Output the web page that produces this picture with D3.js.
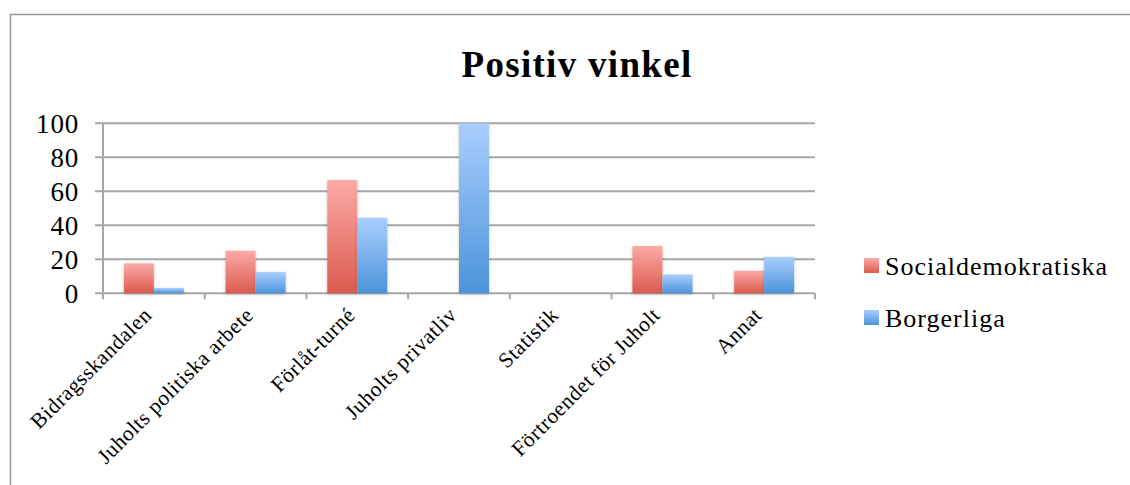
<!DOCTYPE html>
<html><head><meta charset="utf-8">
<script src="https://cdn.jsdelivr.net/npm/d3@7"></script>
<style>body{margin:0;background:#fff}svg{display:block}</style>
</head><body>
<script>
const categories = ["Bidragsskandalen","Juholts politiska arbete","Förlåt-turné","Juholts privatliv","Statistik","Förtroendet för Juholt","Annat"];
const seriesNames = ["Socialdemokratiska","Borgerliga"];
const socialdemokratiska = [17.6, 25, 66.7, 0, 0, 27.8, 13.3];
const borgerliga = [3.1, 12.5, 44.4, 100, 0, 11.1, 21.4];
const yTicks = [0,20,40,60,80,100];

const W=1130,H=485;
const svg=d3.select("body").append("svg").attr("width",W).attr("height",H);
const font="'Liberation Serif', 'DejaVu Serif', serif";
const defs=svg.append("defs");
const grads=[["gRed","#fbaaa6","#dc5a4e"],["gBlue","#a9cefe","#4b93d9"]];
grads.forEach(([id,a,b])=>{
  const g=defs.append("linearGradient").attr("id",id).attr("x1",0).attr("y1",0).attr("x2",0).attr("y2",1);
  g.append("stop").attr("offset","0%").attr("stop-color",a);
  g.append("stop").attr("offset","100%").attr("stop-color",b);
});
const f=defs.append("filter").attr("id","sh").attr("x","-20%").attr("y","-10%").attr("width","140%").attr("height","130%");
f.append("feDropShadow").attr("dx",0).attr("dy",1).attr("stdDeviation",1.5).attr("flood-color","#000").attr("flood-opacity",0.25);

// outer frame
svg.append("rect").attr("x",10.5).attr("y",14.5).attr("width",1300).attr("height",600).attr("fill","none").attr("stroke","#999").attr("stroke-width",1.5);

const x0=103,x1=815,yTop=123.3,yBot=293.3;
const x=d3.scaleBand().domain(categories).range([x0,x1]).paddingInner(0.41).paddingOuter(0.205);
const y=d3.scaleLinear().domain([0,100]).range([yBot,yTop]);
const xs=d3.scaleBand().domain(seriesNames).range([0,x.bandwidth()]);

// gridlines
svg.append("g").selectAll("line").data(yTicks).join("line")
  .attr("x1",95).attr("x2",x1).attr("y1",d=>y(d)).attr("y2",d=>y(d))
  .attr("stroke","#a6a6a6").attr("stroke-width",2);
// y axis line
svg.append("line").attr("x1",x0).attr("x2",x0).attr("y1",yTop).attr("y2",yBot+5).attr("stroke","#a6a6a6").attr("stroke-width",2);
// category ticks
const step=(x1-x0)/categories.length;
svg.append("g").selectAll("line").data(d3.range(categories.length+1)).join("line")
  .attr("x1",i=>x0+i*step).attr("x2",i=>x0+i*step).attr("y1",yBot).attr("y2",yBot+6)
  .attr("stroke","#a6a6a6").attr("stroke-width",2);

// y labels
svg.append("g").selectAll("text").data(yTicks).join("text")
  .attr("x",79).attr("y",d=>y(d)).attr("dy","0.35em").attr("text-anchor","end")
  .attr("font-family",font).attr("font-size",27).attr("letter-spacing",0.8).attr("fill","#000").text(d=>d);

// bars
const data=[socialdemokratiska,borgerliga];
const bars=svg.append("g");
seriesNames.forEach((s,si)=>{
  bars.append("g").selectAll("rect").data(categories.map((c,i)=>({c,v:data[si][i]}))).join("rect")
    .filter(d=>d.v>0)
    .attr("x",d=>x(d.c)+xs(s)).attr("width",xs.bandwidth())
    .attr("y",d=>y(d.v)).attr("height",d=>yBot-y(d.v))
    .attr("fill",`url(#${si?"gBlue":"gRed"})`).attr("filter","url(#sh)");
});

// category labels
svg.append("g").selectAll("text").data(categories).join("text")
  .attr("transform",c=>`translate(${x(c)+x.bandwidth()/2-1},${yBot+23}) rotate(-45)`)
  .attr("text-anchor","end").attr("font-family",font).attr("font-size",21.5).attr("letter-spacing",0.5).attr("fill","#000").text(c=>c);

// title
svg.append("text").attr("x",577).attr("y",77).attr("text-anchor","middle")
  .attr("font-family",font).attr("font-weight","bold").attr("font-size",37).attr("letter-spacing",1.3).attr("fill","#000").text("Positiv vinkel");

// legend
const lg=svg.append("g");
seriesNames.forEach((s,i)=>{
  const yy=258+i*52;
  lg.append("rect").attr("x",864).attr("y",yy).attr("width",15).attr("height",15).attr("fill",`url(#${i?"gBlue":"gRed"})`);
  lg.append("text").attr("x",885).attr("y",yy+17).attr("font-family",font).attr("font-size",26).attr("letter-spacing",1).attr("fill","#000").text(s);
});
</script>
</body></html>
